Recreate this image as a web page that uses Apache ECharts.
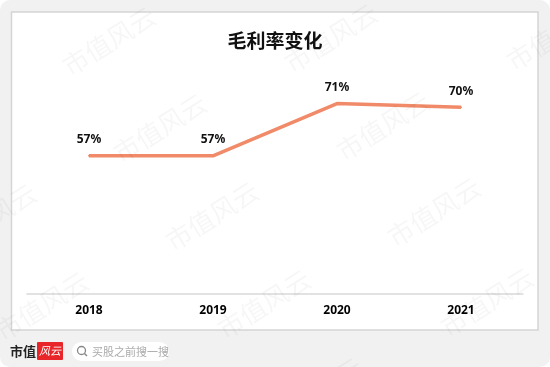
<!DOCTYPE html>
<html>
<head>
<meta charset="utf-8">
<script src="https://cdn.jsdelivr.net/npm/echarts@6/dist/echarts.min.js"></script>
<style>
  html, body { margin: 0; padding: 0; background: #fff; }
  #chart { width: 550px; height: 367px; }
</style>
</head>
<body>
<div id="chart"></div>
<script>
const years = ['2018', '2019', '2020', '2021'];
const grossMargin = [57, 57, 71, 70];
const titleText = '毛利率变化';
const watermarkText = '市值风云';

// watermark anchors (centre of each rotated stamp)
const watermarkSpots = [
  [109, 41], [331, 38], [553, 36],
  [160, 128], [383, 126], [605, 124],
  [-10, 218], [212, 216], [434, 212],
  [42, 306], [264, 304], [487, 302],
  [316, 392], [538, 390]
];

const chart = echarts.init(document.getElementById('chart'));

const watermarks = watermarkSpots.map(p => ({
  type: 'text',
  x: p[0],
  y: p[1],
  rotation: 32 * Math.PI / 180,
  z: 100,
  silent: true,
  style: {
    text: watermarkText,
    fontSize: 26,
    fontFamily: 'Noto Sans CJK SC',
    fill: 'rgba(0,0,0,0.035)',
    textAlign: 'center',
    textVerticalAlign: 'middle'
  }
}));

chart.setOption({
  backgroundColor: '#fff',
  title: {
    text: titleText,
    left: 'center',
    top: 26,
    textStyle: {
      fontFamily: 'Noto Sans CJK SC',
      fontSize: 19,
      fontWeight: 'bold',
      color: '#111'
    }
  },
  graphic: [
    {
      type: 'rect',
      z: -10,
      shape: { x: 0, y: 0, width: 550, height: 367, r: 10 },
      style: { fill: '#f1f1f1' }
    },
    {
      type: 'rect',
      z: -9,
      shape: { x: 11.5, y: 12, width: 526.5, height: 318 },
      style: { fill: '#fff', stroke: '#d5d5d5', lineWidth: 1.5 }
    },
    // logo
    {
      type: 'text',
      x: 10, y: 351,
      style: {
        text: '市值',
        fontFamily: 'Noto Sans CJK SC',
        fontSize: 13,
        fontWeight: 'bold',
        fill: '#222',
        textVerticalAlign: 'middle'
      }
    },
    {
      type: 'rect',
      shape: { x: 37, y: 342, width: 26, height: 18, r: 1 },
      style: { fill: '#e8262a' }
    },
    {
      type: 'text',
      x: 50, y: 351,
      style: {
        text: '风云',
        fontFamily: 'Noto Sans CJK SC',
        fontSize: 11,
        fontStyle: 'italic',
        fill: '#fff',
        textAlign: 'center',
        textVerticalAlign: 'middle'
      }
    },
    // search pill
    {
      type: 'rect',
      shape: { x: 72, y: 342, width: 97, height: 19, r: 9.5 },
      style: { fill: '#fff' }
    },
    {
      type: 'circle',
      shape: { cx: 81.5, cy: 350.5, r: 4 },
      style: { fill: 'none', stroke: '#888', lineWidth: 1.3 }
    },
    {
      type: 'line',
      shape: { x1: 84.5, y1: 353.5, x2: 87, y2: 356 },
      style: { stroke: '#888', lineWidth: 1.5 }
    },
    {
      type: 'text',
      x: 92, y: 351.5,
      style: {
        text: '买股之前搜一搜',
        fontFamily: 'Noto Sans CJK SC',
        fontSize: 11,
        fill: '#aaa',
        textVerticalAlign: 'middle'
      }
    }
  ].concat(watermarks),
  grid: {
    left: 27,
    right: 27,
    top: 70,
    bottom: 73,
    containLabel: false
  },
  xAxis: {
    type: 'category',
    data: years,
    boundaryGap: true,
    axisLine: { lineStyle: { color: '#d9d9d9', width: 1.5 } },
    axisTick: { show: false },
    axisLabel: {
      margin: 11,
      fontFamily: 'Noto Sans',
      fontSize: 12,
      fontWeight: 'bold',
      color: '#000'
    }
  },
  yAxis: {
    type: 'value',
    min: 20,
    max: 80,
    show: false,
    splitLine: { show: false }
  },
  series: [
    {
      name: titleText,
      type: 'line',
      data: grossMargin,
      symbol: 'circle',
      symbolSize: 2,
      showSymbol: true,
      smooth: false,
      lineStyle: { color: '#f08a68', width: 3.5 },
      itemStyle: { color: '#f08a68' },
      label: {
        show: true,
        position: 'top',
        distance: 9,
        formatter: '{c}%',
        fontFamily: 'Noto Sans',
        fontSize: 12,
        fontWeight: 'bold',
        color: '#111'
      }
    }
  ]
});
</script>
</body>
</html>
